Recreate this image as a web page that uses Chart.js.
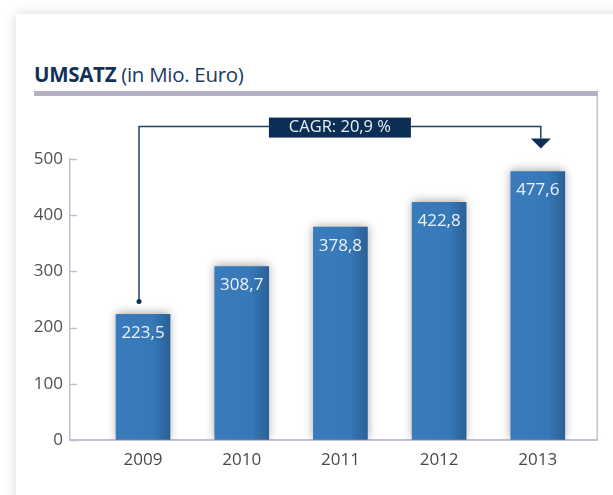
<!DOCTYPE html>
<html>
<head>
<meta charset="utf-8">
<script src="https://cdn.jsdelivr.net/npm/chart.js@4.4.1/dist/chart.umd.min.js"></script>
<style>
  html, body { margin: 0; padding: 0; background: #fff; overflow: hidden; }
  body { width: 613px; height: 495px; position: relative; font-family: 'Open Sans', sans-serif; }
  .card { position: absolute; left: 16px; top: 14px; width: 800px; height: 700px; background: #fff; box-shadow: 0 0 12px rgba(0,0,0,0.16); }
  h1 { position: absolute; left: 34px; top: 62px; margin: 0; font-size: 20.5px; line-height: 24px; font-weight: 400; color: #1a3b62; white-space: nowrap; letter-spacing: -0.3px; }
  h1 b { font-weight: 700; color: #0f3259; }
  canvas { position: absolute; left: 0; top: 0; }
</style>
</head>
<body>
<div class="card"></div>
<h1><b>UMSATZ</b> (in Mio. Euro)</h1>
<canvas id="chart" width="613" height="495"></canvas>
<script>
// data
const years = [2009, 2010, 2011, 2012, 2013];
const revenue = [223.5, 308.7, 378.8, 422.8, 477.6];
const yTicks = [0, 100, 200, 300, 400, 500];
const cagrLabel = 'CAGR: 20,9 %';

const BAR_WIDTH = 54;
const AXIS_COLOR = '#c3bfd3';
const NAVY = '#0b2e55';

Chart.defaults.font.family = "'Open Sans', sans-serif";

function barGradient(context) {
    const chart = context.chart;
    if (!chart.chartArea || context.dataIndex === undefined) {
        return '#3779b9';
    }
    const x = chart.scales.x.getPixelForValue(years[context.dataIndex]);
    const g = chart.ctx.createLinearGradient(x - BAR_WIDTH / 2, 0, x + BAR_WIDTH / 2, 0);
    g.addColorStop(0, '#397bbb');
    g.addColorStop(0.68, '#3678b8');
    g.addColorStop(1, '#2b6096');
    return g;
}

const formatValue = (v) => v.toFixed(1).replace('.', ',');

const decorPlugin = {
    id: 'decor',
    beforeDraw(chart) {
        const { ctx, chartArea } = chart;
        ctx.save();
        // grey rule under the title and the right frame line
        ctx.fillStyle = '#b6b2c6';
        ctx.fillRect(34, 91, chartArea.right + 1 - 34, 5);
        ctx.strokeStyle = AXIS_COLOR;
        ctx.lineWidth = 1.5;
        ctx.beginPath();
        ctx.moveTo(chartArea.right + 0.25, 96);
        ctx.lineTo(chartArea.right + 0.25, chartArea.bottom);
        ctx.stroke();
        ctx.restore();
    },
    beforeDatasetsDraw(chart) {
        const ctx = chart.ctx;
        ctx.save();
        ctx.shadowColor = 'rgba(0,0,0,0.35)';
        ctx.shadowBlur = 9;
        ctx.shadowOffsetY = -1;
    },
    afterDatasetsDraw(chart) {
        const { ctx, chartArea } = chart;
        ctx.restore();

        // inward tick marks on the y axis
        const yScale = chart.scales.y;
        ctx.save();
        ctx.strokeStyle = AXIS_COLOR;
        ctx.lineWidth = 1.5;
        yScale.ticks.forEach((t) => {
            const y = Math.round(yScale.getPixelForValue(t.value)) + 0.5;
            ctx.beginPath();
            ctx.moveTo(chartArea.left, y);
            ctx.lineTo(chartArea.left + 7, y);
            ctx.stroke();
        });
        ctx.restore();

        // value labels inside the bars
        const meta = chart.getDatasetMeta(0);
        ctx.save();
        ctx.fillStyle = '#eef3f9';
        ctx.font = "17px 'Open Sans', sans-serif";
        ctx.textAlign = 'center';
        ctx.textBaseline = 'middle';
        meta.data.forEach((bar, i) => {
            ctx.fillText(formatValue(revenue[i]), bar.x, bar.y + 19);
        });
        ctx.restore();

        // CAGR bracket
        const first = meta.data[0];
        const last = meta.data[meta.data.length - 1];
        const xL = first.x - 4;
        const xR = last.x + 3;
        const lineY = last.y - 45;
        const dotY = first.y - 13;
        const arrowTip = last.y - 23;
        const arrowTop = arrowTip - 10;

        ctx.save();
        ctx.strokeStyle = '#1f4269';
        ctx.fillStyle = NAVY;
        ctx.lineWidth = 1.5;
        ctx.beginPath();
        ctx.moveTo(xL, dotY);
        ctx.lineTo(xL, lineY);
        ctx.lineTo(xR, lineY);
        ctx.lineTo(xR, arrowTop);
        ctx.stroke();

        ctx.beginPath();
        ctx.arc(xL, dotY, 2.5, 0, Math.PI * 2);
        ctx.fill();

        ctx.beginPath();
        ctx.moveTo(xR - 10, arrowTop);
        ctx.lineTo(xR + 10, arrowTop);
        ctx.lineTo(xR, arrowTip);
        ctx.closePath();
        ctx.fill();

        const cx = (xL + xR) / 2;
        ctx.fillRect(cx - 71, lineY - 9, 142, 20);
        ctx.fillStyle = '#eaf0f6';
        ctx.font = "16.5px 'Open Sans', sans-serif";
        ctx.textAlign = 'center';
        ctx.textBaseline = 'middle';
        ctx.fillText(cagrLabel, cx, lineY + 1);
        ctx.restore();
    },
};

new Chart(document.getElementById('chart'), {
    type: 'bar',
    data: {
        labels: years,
        datasets: [{
            data: revenue,
            barThickness: BAR_WIDTH,
            backgroundColor: barGradient,
            borderWidth: 0,
        }],
    },
    options: {
        responsive: false,
        animation: false,
        events: [],
        layout: { padding: { top: 159, right: 16, left: 0, bottom: 0 } },
        plugins: {
            legend: { display: false },
            tooltip: { enabled: false },
        },
        scales: {
            x: {
                type: 'linear',
                min: 2008.26,
                max: 2013.6,
                offset: false,
                afterBuildTicks: (s) => { s.ticks = years.map((v) => ({ value: v })); },
                afterFit: (s) => { s.height = 55; },
                grid: { display: true, drawOnChartArea: false, drawTicks: false, offset: false },
                border: { color: AXIS_COLOR, width: 2 },
                ticks: {
                    callback: (v) => String(v),
                    font: { size: 17 },
                    color: '#484848',
                    padding: 10,
                    maxRotation: 0,
                    autoSkip: false,
                },
            },
            y: {
                min: 0,
                max: 500,
                afterBuildTicks: (s) => { s.ticks = yTicks.map((v) => ({ value: v })); },
                afterFit: (s) => { s.width = 70; },
                grid: { display: true, drawOnChartArea: false, drawTicks: false },
                border: { color: AXIS_COLOR, width: 1.5 },
                ticks: {
                    font: { size: 17 },
                    color: '#505050',
                    padding: 7,
                },
            },
        },
    },
    plugins: [decorPlugin],
});
</script>
</body>
</html>
